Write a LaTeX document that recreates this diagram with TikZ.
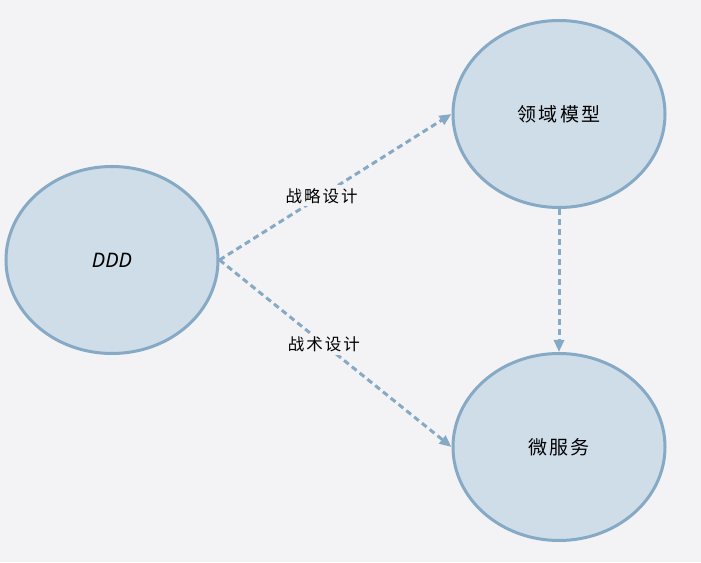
\documentclass[tikz,border=0pt]{standalone}
\usepackage{fontspec}
\setmainfont{Noto Sans}
\newfontfamily\cjk[LetterSpace=12]{Noto Sans CJK SC}
\usetikzlibrary{arrows.meta,shapes.geometric}
\definecolor{bg}{HTML}{F3F3F5}
\definecolor{fillc}{HTML}{CFDDE8}
\definecolor{edgec}{HTML}{86A9C5}
\tikzset{
  bubble/.style={ellipse, draw=edgec, fill=fillc, line width=3pt, minimum width=212pt, minimum height=187pt, inner sep=0pt, font=\cjk\fontsize{19}{22}\selectfont, text=black},
  link/.style={draw=edgec, line width=3pt, dash pattern=on 6pt off 4pt, -{Triangle[length=12pt,width=10pt]}},
  lbl/.style={fill=bg, inner sep=3pt, font=\cjk\fontsize{16.5}{19}\selectfont, text=black}
}
\begin{document}
\begin{tikzpicture}[x=1pt,y=1pt]
\fill[bg] (0,0) rectangle (701,562);
\useasboundingbox (0,0) rectangle (701,562);
\node[bubble] (ddd) at (112,302) {\itshape\rmfamily\fontsize{20}{22}\selectfont DDD};
\node[bubble] (ly) at (559,448) {领域模型};
\node[bubble] (wf) at (559,115) {微服务};
\draw[link] (ddd.east) -- (ly.west) node[lbl, pos=0.44] (l1) {战略设计};
\draw[link] (ddd.east) -- (wf.west) node[lbl, pos=0.45] (l2) {战术设计};
\draw[link] (ly.south) -- (wf.north);
\end{tikzpicture}
\end{document}
